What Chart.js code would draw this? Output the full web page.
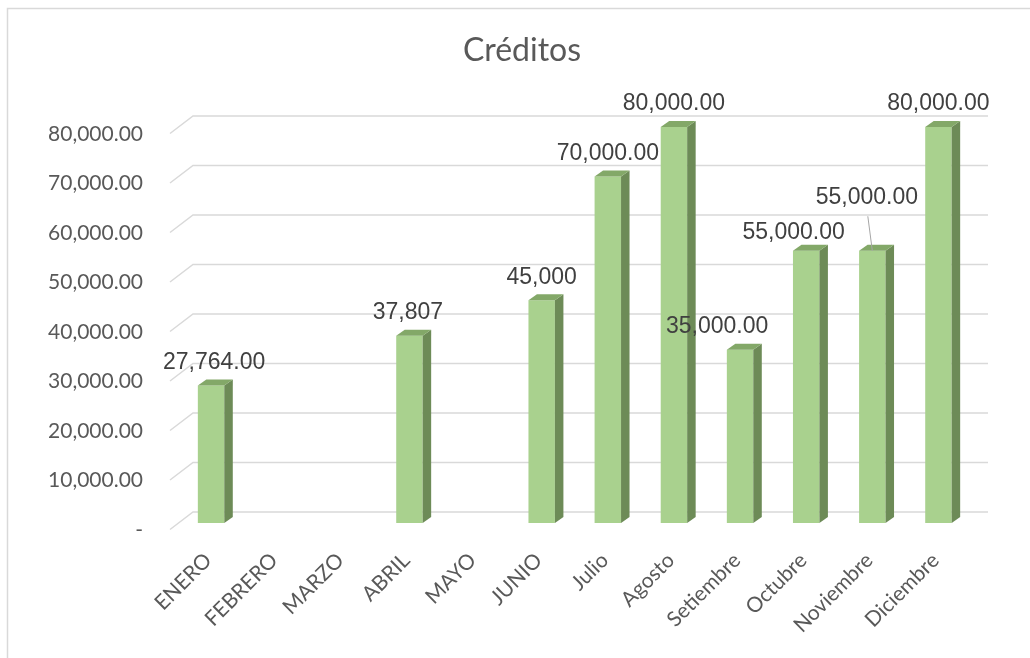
<!DOCTYPE html>
<html>
<head>
<meta charset="utf-8">
<script src="https://cdn.jsdelivr.net/npm/chart.js"></script>
<style>
  body { margin: 0; background: #fff; }
</style>
</head>
<body>
<canvas id="creditos" width="1030" height="658"></canvas>
<script>
const titulo = 'Créditos';
const meses = ['ENERO', 'FEBRERO', 'MARZO', 'ABRIL', 'MAYO', 'JUNIO', 'Julio', 'Agosto', 'Setiembre', 'Octubre', 'Noviembre', 'Diciembre'];
const creditos = [27764, null, null, 37807, null, 45000, 70000, 80000, 35000, 55000, 55000, 80000];
// decimales que muestra cada etiqueta de datos
const decimales = [2, 0, 0, 0, 0, 0, 2, 2, 2, 2, 2, 2];
const yTicks = ['-', '10,000.00', '20,000.00', '30,000.00', '40,000.00', '50,000.00', '60,000.00', '70,000.00', '80,000.00'];

const GRID = '#d9d9d9';
const TEXT = '#595959';

// ajustes de posicion de algunas etiquetas (dx, dy extra)
const ajusteEtiqueta = { 0: [3, 0], 3: [-1.5, 0], 8: [-23, 0], 9: [-12.5, 5], 10: [-5.5, -30.5] };

const efecto3d = {
    id: 'efecto3d',
    beforeDraw(chart) {
        const ctx = chart.ctx;
        ctx.save();
        // borde del area del grafico
        ctx.strokeStyle = GRID;
        ctx.lineWidth = 1.5;
        ctx.beginPath();
        ctx.moveTo(7.5, 700);
        ctx.lineTo(7.5, 8.5);
        ctx.lineTo(1100, 8.5);
        ctx.stroke();
        // titulo
        ctx.font = 'normal 32px Lato';
        ctx.fillStyle = TEXT;
        ctx.textAlign = 'center';
        ctx.textBaseline = 'middle';
        ctx.fillText(titulo, 522, 51);
        ctx.restore();
    },
    beforeDatasetsDraw(chart) {
        // lineas de la pared del fondo
        const ctx = chart.ctx;
        const y = chart.scales.y;
        const a = chart.chartArea;
        ctx.save();
        ctx.strokeStyle = GRID;
        ctx.lineWidth = 1.5;
        y.ticks.forEach(function (t) {
            const p = y.getPixelForValue(t.value);
            ctx.beginPath();
            ctx.moveTo(a.left - 8, p + 6.5);
            ctx.lineTo(a.left + 15, p - 11);
            ctx.lineTo(a.right + 16.5, p - 11);
            ctx.stroke();
        });
        ctx.restore();
    },
    afterDatasetsDraw(chart) {
        const ctx = chart.ctx;
        const meta = chart.getDatasetMeta(0);
        const dx = 8.5, dy = -6;
        ctx.save();
        meta.data.forEach(function (bar, i) {
            if (creditos[i] == null) return;
            const p = bar.getProps(['x', 'y', 'base', 'width'], true);
            const l = p.x - p.width / 2, r = p.x + p.width / 2;
            // lado
            ctx.fillStyle = '#6d8b57';
            ctx.beginPath();
            ctx.moveTo(r, p.y);
            ctx.lineTo(r + dx, p.y + dy);
            ctx.lineTo(r + dx, p.base + dy);
            ctx.lineTo(r, p.base);
            ctx.closePath();
            ctx.fill();
            // tapa
            ctx.fillStyle = '#83a868';
            ctx.beginPath();
            ctx.moveTo(l, p.y);
            ctx.lineTo(l + dx, p.y + dy);
            ctx.lineTo(r + dx, p.y + dy);
            ctx.lineTo(r, p.y);
            ctx.closePath();
            ctx.fill();
        });

        // etiquetas de datos
        ctx.font = '23px "Liberation Sans", Arial, sans-serif';
        ctx.fillStyle = '#404040';
        ctx.textAlign = 'center';
        ctx.textBaseline = 'middle';
        meta.data.forEach(function (bar, i) {
            if (creditos[i] == null) return;
            const p = bar.getProps(['x', 'y'], true);
            const adj = ajusteEtiqueta[i] || [0, 0];
            const tx = p.x + adj[0];
            const ty = p.y - 23 + adj[1];
            const txt = creditos[i].toLocaleString('en-US', { minimumFractionDigits: decimales[i], maximumFractionDigits: decimales[i] });
            if (adj[1] < -20) {
                ctx.strokeStyle = '#a6a6a6';
                ctx.lineWidth = 1;
                ctx.beginPath();
                ctx.moveTo(tx + 1, ty + 19);
                ctx.lineTo(p.x, p.y);
                ctx.stroke();
            }
            ctx.fillText(txt, tx, ty);
        });
        ctx.restore();
    }
};

const config = {
    type: 'bar',
    data: {
        labels: meses,
        datasets: [{
            label: titulo,
            data: creditos,
            backgroundColor: '#a9d18e',
            barPercentage: 0.4,
            categoryPercentage: 1
        }]
    },
    options: {
        responsive: false,
        animation: false,
        layout: {
            padding: { top: 127, left: 0, right: 58.5, bottom: 0 }
        },
        plugins: {
            legend: { display: false },
            tooltip: { enabled: false },
            title: { display: false }
        },
        scales: {
            x: {
                grid: { display: false, drawTicks: false },
                border: { display: false },
                ticks: {
                    autoSkip: false,
                    maxRotation: 45,
                    minRotation: 45,
                    padding: 25,
                    labelOffset: -3,
                    color: TEXT,
                    font: { family: 'Lato', size: 21 }
                },
                afterFit: function (s) { s.height = 135; }
            },
            y: {
                min: 0,
                max: 80000,
                grid: { display: false, drawTicks: false },
                border: { display: false },
                ticks: {
                    stepSize: 10000,
                    padding: 35,
                    labelOffset: 7,
                    color: TEXT,
                    font: { family: 'Lato', size: 21 },
                    callback: function (v, i) { return yTicks[i]; }
                },
                afterFit: function (s) { s.width = 178; }
            }
        }
    },
    plugins: [efecto3d]
};

var grafico = new Chart(document.getElementById('creditos'), config);
</script>
</body>
</html>
